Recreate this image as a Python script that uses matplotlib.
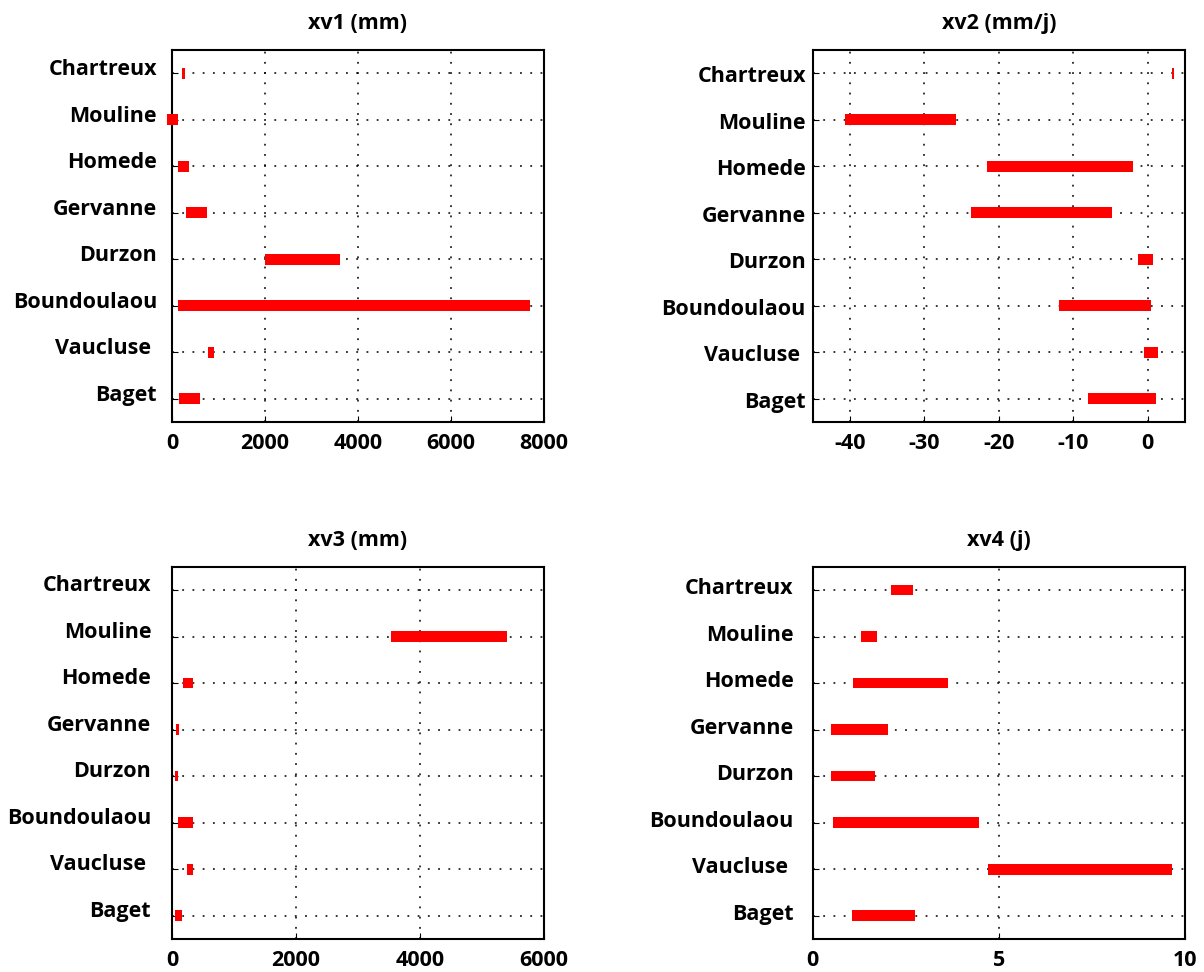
import numpy as np
import matplotlib
matplotlib.use("Agg")
import matplotlib.pyplot as plt
from matplotlib.transforms import ScaledTranslation

stations = ["Baget", "Vaucluse ", "Boundoulaou", "Durzon", "Gervanne", "Homede", "Mouline", "Chartreux"]

titles = ["xv1 (mm)", "xv2 (mm/j)", "xv3 (mm)", "xv4 (j)"]

# min / max of each parameter, in station order (Baget ... Chartreux)
xv1_min = [160, 770, 120, 2000, 295, 125, -115, 222]
xv1_max = [600, 900, 7700, 3610, 760, 370, 120, 272]

xv2_min = [-8.05, -0.45, -11.9, -1.25, -23.7, -21.6, -40.7, 3.27]
xv2_max = [1.05, 1.35, 0.5, 0.68, -4.8, -2.0, -25.7, 3.57]

xv3_min = [55, 240, 100, 48, 65, 172, 3540, np.nan]
xv3_max = [160, 333, 345, 92, 113, 345, 5400, np.nan]

xv4_min = [1.05, 4.72, 0.55, 0.48, 0.48, 1.09, 1.30, 2.09]
xv4_max = [2.76, 9.65, 4.48, 1.67, 2.03, 3.63, 1.73, 2.70]

mins = [xv1_min, xv2_min, xv3_min, xv4_min]
maxs = [xv1_max, xv2_max, xv3_max, xv4_max]

xlims = [(0, 8000), (-45, 5), (0, 6000), (0, 10)]
xticks = [[0, 2000, 4000, 6000, 8000], [-40, -30, -20, -10, 0],
          [0, 2000, 4000, 6000], [0, 5, 10]]

plt.rcParams['font.family'] = ['Open Sans', 'DejaVu Sans']
plt.rcParams['font.weight'] = 'bold'
plt.rcParams['axes.unicode_minus'] = False

fig = plt.figure(figsize=(12.04, 9.72), dpi=100)
W, H = 1204, 972
boxes = [(172, 50, 544, 422), (812.7, 50, 1185, 422),
         (172, 566.7, 544, 939), (812.7, 566.7, 1185, 939)]
label_shift = [6, -1, 7, 4]
ypads = [10.8, 5, 15, 13.7]
FS = 15.5

for i in range(4):
    l, t, r, b = boxes[i]
    ax = fig.add_axes([l / W, 1 - b / H, (r - l) / W, (b - t) / H])
    y = np.arange(1, len(stations) + 1)
    lo = np.array(mins[i], dtype=float)
    hi = np.array(maxs[i], dtype=float)
    ok = ~np.isnan(lo)
    bars = ax.barh(y[ok], hi[ok] - lo[ok], left=lo[ok], height=0.23,
                   color='#ff0000', edgecolor='none', zorder=3)
    for bar in bars:
        bar.set_clip_on(False)
    ax.set_xlim(*xlims[i])
    ax.set_ylim(0.5, len(stations) + 0.5)
    ax.set_xticks(xticks[i])
    ax.set_yticks(y)
    ax.set_yticklabels(stations)
    ax.grid(True, color='black', linestyle=(0, (1.2, 5.5)), linewidth=1.1)
    ax.set_axisbelow(True)
    for sp in ax.spines.values():
        sp.set_linewidth(1.5)
        sp.set_color('black')
    ax.tick_params(axis='both', direction='in', length=4, width=0.8,
                   labelsize=FS, pad=8)
    ax.tick_params(axis='y', pad=ypads[i])
    for lab in ax.get_yticklabels():
        lab.set_fontweight('bold')
        lab.set_transform(lab.get_transform() +
                          ScaledTranslation(0, label_shift[i] / 100, fig.dpi_scale_trans))
    for lab in ax.get_xticklabels():
        lab.set_fontweight('bold')
    ax.set_title(titles[i], fontsize=FS, fontweight='bold', pad=15)

fig.savefig("out.png", dpi=100)
